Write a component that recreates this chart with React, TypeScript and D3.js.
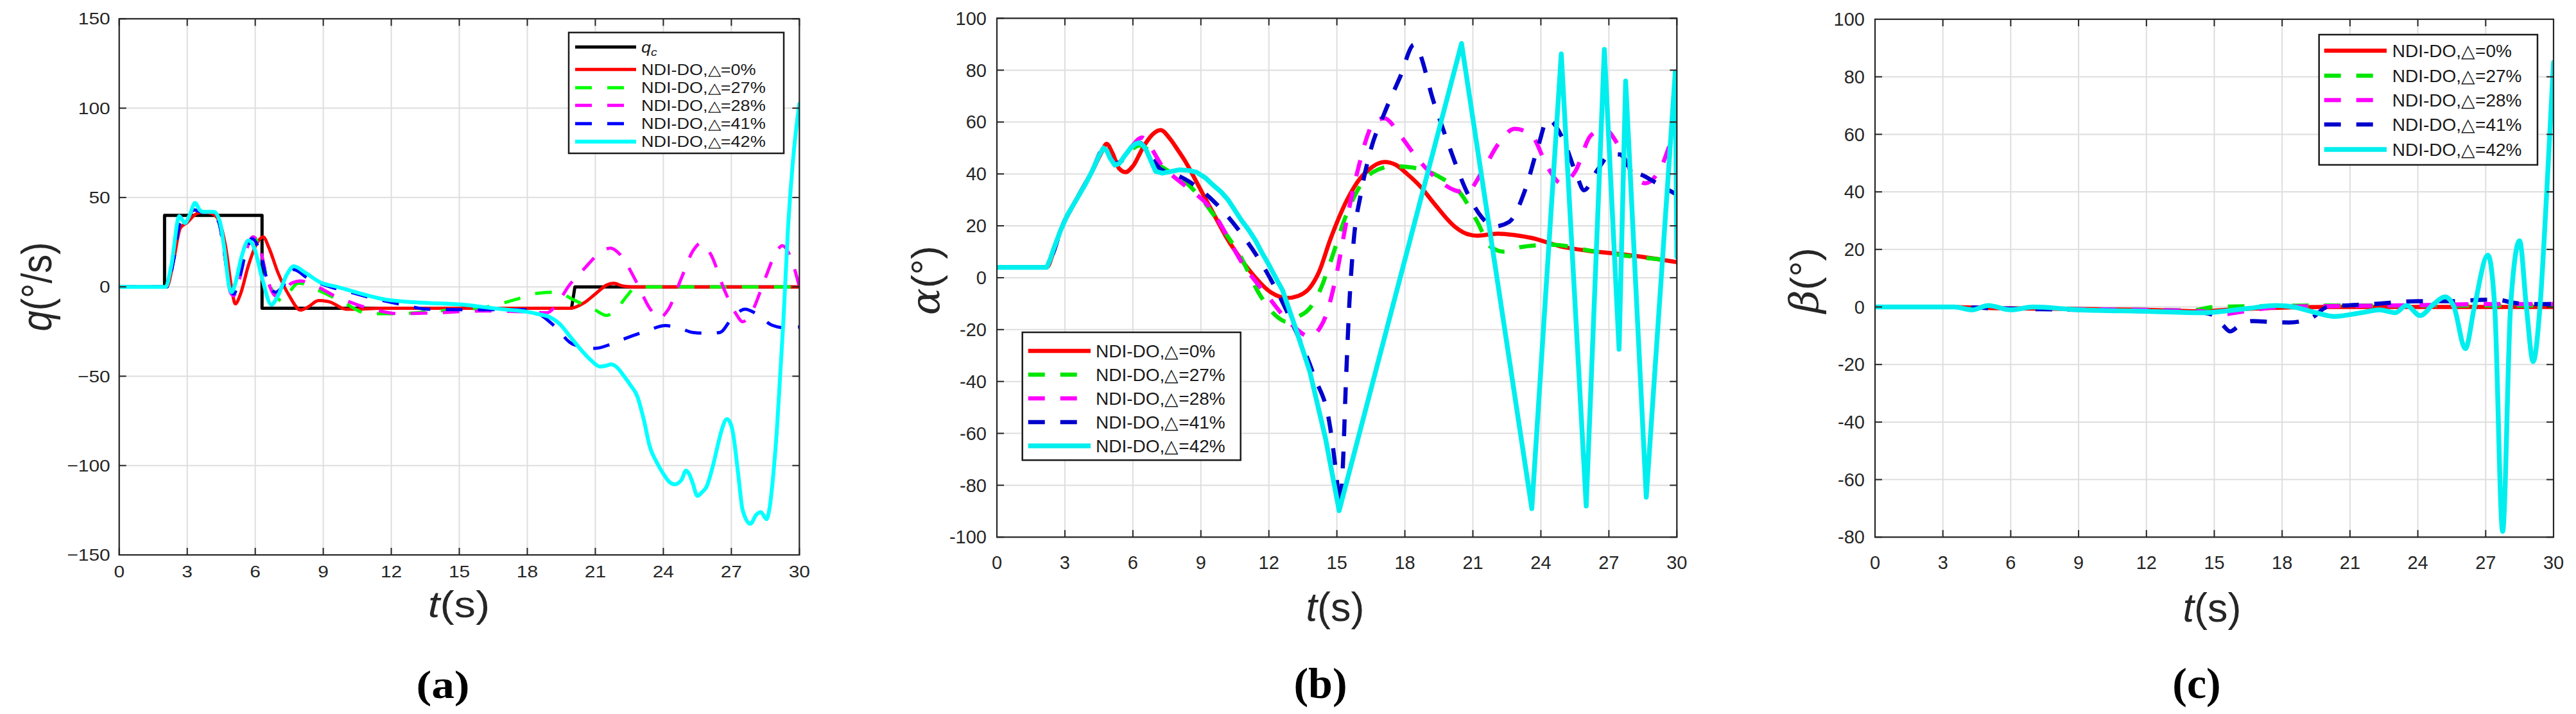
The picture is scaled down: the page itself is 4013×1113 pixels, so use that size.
import React from 'react';
import * as d3 from 'd3';

type Pt = [number, number];

// ---------- tick values ----------
const T_TICKS = [0, 3, 6, 9, 12, 15, 18, 21, 24, 27, 30];
const Q_TICKS = [-150, -100, -50, 0, 50, 100, 150];
const ALPHA_TICKS = [-100, -80, -60, -40, -20, 0, 20, 40, 60, 80, 100];
const BETA_TICKS = [-80, -60, -40, -20, 0, 20, 40, 60, 80, 100];

const LEGEND_LABELS = ['NDI-DO,△=0%', 'NDI-DO,△=27%', 'NDI-DO,△=28%', 'NDI-DO,△=41%', 'NDI-DO,△=42%'];

// ---------- panel (a): q (deg/s) ----------
const qCommand: Pt[] = [[0, 0], [2, 0], [2, 40], [6.3, 40], [6.3, -12], [19.95, -12], [20.1, 0], [30, 0]];
const qRed: Pt[] = [[0, 0], [2.1, 0], [2.4, 15], [2.7, 33], [3.0, 36], [3.3, 40], [3.7, 42], [4.1, 41], [4.4, 37], [4.7, 22], [4.95, 0], [5.12, -9.5], [5.35, -4], [5.7, 12], [6.1, 25], [6.35, 28], [6.6, 22], [7.0, 8], [7.5, -5], [8.0, -13], [8.3, -11.5], [8.8, -7.7], [9.3, -8.5], [10.0, -12.5], [10.5, -12.5], [11.5, -12], [19.9, -12], [20.5, -9], [21, -4], [21.5, 1], [21.8, 2], [22.2, 0.5], [22.6, 0], [30, 0]];
const qGreen: Pt[] = [[0, 0], [2.1, 0], [2.4, 15], [2.7, 36], [2.9, 37], [3.3, 43], [3.6, 42], [4.1, 41], [4.4, 36], [4.65, 18], [4.9, -2], [5.05, -4], [5.3, 5], [5.6, 20], [5.9, 28], [6.2, 22], [6.5, 6], [6.9, -5], [7.2, -8], [7.5, -3], [7.9, 2], [8.2, 1.5], [8.8, -2], [9.8, -8], [11, -15], [12.4, -15], [14, -13.5], [15.5, -12.5], [16.5, -10.5], [17.5, -7], [18.5, -3.5], [19.3, -3], [20, -7], [21, -13], [21.5, -16], [21.9, -13], [22.4, -5], [22.8, 0], [30, 0]];
const qMagenta: Pt[] = [[0, 0], [2.1, 0], [2.4, 15], [2.7, 36], [2.9, 37], [3.3, 43], [3.6, 42], [4.1, 41], [4.4, 36], [4.65, 18], [4.9, -3], [5.05, -5], [5.3, 4], [5.6, 20], [5.9, 28], [6.2, 22], [6.5, 6], [6.9, -5], [7.2, -4], [7.6, 2], [8.0, 3.3], [8.5, 1.5], [9.5, -5], [10.5, -10], [11.5, -13.5], [12.3, -15], [14, -14.5], [16, -13.5], [18, -14], [18.85, -14.5], [19.4, -8], [19.8, 0], [20.5, 10], [21.2, 19], [21.67, 21.7], [22.1, 18], [22.8, 3], [23.4, -12], [23.8, -17.5], [24.2, -13], [24.8, 5], [25.3, 20], [25.66, 24.5], [26.1, 18], [26.7, -2], [27.2, -15], [27.5, -19.5], [27.9, -14], [28.5, 5], [29.0, 20], [29.25, 23], [29.6, 17], [30, 0]];
const qBlue: Pt[] = [[0, 0], [2.1, 0], [2.4, 15], [2.7, 36], [2.9, 37], [3.3, 43], [3.6, 42], [4.1, 41], [4.4, 36], [4.65, 18], [4.9, -2], [5.05, -4], [5.3, 5], [5.6, 20], [5.85, 27], [6.2, 20], [6.5, 5], [6.9, -3], [7.2, 0], [7.7, 9.7], [8.3, 5], [9.3, 0], [10.2, -3], [11.2, -6.4], [12.5, -10], [13.6, -12.5], [15.4, -12.8], [17.8, -12.8], [18.5, -15], [19.2, -22], [20.0, -32], [21.0, -34.4], [21.7, -32], [22.3, -29], [23.2, -25], [24.1, -21.7], [24.7, -23], [25.3, -25.5], [26, -26], [26.5, -25.5], [27, -18], [27.6, -12.5], [28.1, -15], [28.8, -21.5], [29.4, -23], [30, -22.5]];
const qCyan: Pt[] = [[0, 0], [2.05, 0], [2.3, 12], [2.65, 39.5], [2.9, 35.7], [3.1, 40], [3.35, 47], [3.55, 43], [3.7, 42], [4.18, 42], [4.45, 36], [4.65, 20], [4.85, 0], [4.95, -3], [5.1, 1], [5.4, 17], [5.7, 26], [5.95, 22], [6.3, 5], [6.71, -10], [7.0, -5], [7.4, 7], [7.7, 11.5], [8.2, 8], [8.87, 2.5], [9.6, 0], [10.3, -2.5], [11.0, -5], [11.7, -7], [12.6, -8.3], [13.6, -9], [15.2, -10], [16.2, -11.5], [17.1, -12.8], [18.0, -14], [18.5, -15.3], [19.0, -17], [19.4, -20.4], [19.9, -28], [20.4, -35.7], [20.8, -41], [21.2, -44.6], [21.45, -44.2], [21.7, -43.4], [21.95, -45], [22.25, -49.7], [22.55, -55], [22.85, -61.2], [23.15, -75], [23.4, -89.3], [23.7, -98], [24.0, -104.6], [24.25, -109], [24.5, -110.5], [24.8, -108], [25.0, -102.8], [25.15, -105], [25.3, -110], [25.5, -117], [25.7, -115], [25.9, -112], [26.2, -99.5], [26.45, -86], [26.6, -79], [26.8, -74], [26.95, -76], [27.07, -81.6], [27.3, -104.6], [27.5, -125], [27.84, -132.6], [28.1, -127.5], [28.3, -126], [28.55, -130], [28.7, -122.5], [28.85, -105], [29.0, -81.6], [29.15, -50], [29.3, -17.9], [29.5, 33], [29.76, 76.5], [30, 102.5]];

// ---------- panel (b): alpha (deg) ----------
const aRed: Pt[] = [[0, 4], [2.2, 4], [2.5, 10], [2.8, 18], [3.5, 30], [4.2, 41], [4.6, 48], [4.84, 51.6], [5.1, 48], [5.4, 42], [5.68, 40.7], [6.0, 43], [6.5, 51], [6.9, 55.5], [7.23, 56.9], [7.6, 54], [8.0, 49], [8.3, 45], [9.0, 33.7], [9.6, 24], [10.2, 14.5], [10.7, 8], [11.2, 2.2], [12.1, -5.7], [12.8, -7.8], [13.3, -7], [13.8, -3.9], [14.2, 2], [14.7, 14.5], [15.45, 30], [16.0, 38], [16.4, 41.6], [17.1, 44.6], [17.6, 43.5], [18.1, 40], [18.7, 35], [19.3, 28.5], [20.2, 19.7], [20.7, 17], [21.2, 16.2], [22.1, 17], [22.8, 16.5], [23.6, 15.3], [25, 11.8], [26, 10.5], [27.4, 9.2], [28.5, 8], [30, 6]];
const aGreen: Pt[] = [[0, 4], [2.2, 4], [2.5, 10], [2.8, 18], [3.5, 30], [4.2, 41], [4.7, 49.5], [4.9, 48], [5.2, 44], [5.5, 45], [5.9, 49], [6.3, 51], [6.7, 49], [7.1, 44], [7.6, 41], [8.3, 37], [9.5, 25], [10.1, 17], [10.7, 9], [11.6, -6.6], [12.4, -15.3], [12.8, -17], [13.3, -15], [13.8, -11.8], [14.3, -4], [14.7, 5.7], [15.45, 25], [16.0, 35], [16.6, 40.7], [17.5, 43], [18.3, 42.5], [19.5, 39], [20.5, 32], [21.2, 21.5], [21.8, 11.8], [22.4, 10], [23.1, 11.8], [24.5, 12.7], [26.2, 10.4], [27.9, 8.3], [30, 6.5]];
const aMagenta: Pt[] = [[0, 4], [2.2, 4], [2.5, 10], [2.8, 18], [3.5, 30], [4.2, 41], [4.7, 49.5], [4.9, 48], [5.2, 44], [5.5, 45], [5.9, 50], [6.4, 54], [6.8, 50], [7.3, 43], [7.8, 39], [8.3, 35.5], [9.5, 25.8], [10.1, 17], [10.7, 7.4], [11.9, -6.6], [13.1, -18.8], [13.8, -22.7], [14.2, -20], [14.5, -15], [15, 2], [15.45, 23], [15.9, 40.7], [16.4, 56], [16.6, 60], [17.1, 61.4], [17.8, 54.8], [18.55, 46], [19.3, 39], [20.2, 33.7], [20.7, 32.9], [21.4, 40.7], [22.1, 51.3], [22.85, 57.4], [23.6, 54.8], [24.3, 42.5], [24.9, 36.4], [25.5, 40.7], [26.2, 54.8], [26.8, 57.4], [27.4, 51.3], [28, 40.7], [28.6, 36.4], [29.3, 42.5], [29.8, 53], [30, 54.8]];
const aBlue: Pt[] = [[0, 4], [2.2, 4], [2.5, 10], [2.8, 18], [3.5, 30], [4.2, 41], [4.7, 49.5], [4.9, 48], [5.2, 44], [5.5, 45], [5.9, 50], [6.3, 52], [6.7, 48], [7.2, 42], [7.8, 40], [8.3, 38], [9.5, 30], [10.7, 18], [11.9, 2.2], [13.1, -18.8], [14.0, -38], [14.7, -57.5], [15.0, -78], [15.12, -88], [15.25, -75], [15.4, -40], [15.55, -10], [15.75, 15], [16.05, 32], [16.5, 49.5], [17.1, 63.5], [17.8, 77.6], [18.4, 89.8], [19.3, 67], [20, 49.5], [20.7, 33.7], [21.4, 23.2], [21.9, 19.7], [22.6, 21.5], [23.3, 33.7], [23.9, 51.3], [24.3, 61], [25, 53], [25.6, 39], [25.9, 33.7], [26.5, 41.6], [27.1, 47.7], [27.5, 47.5], [27.9, 42.5], [28.6, 39], [29.3, 35.5], [30, 32]];
const aCyan: Pt[] = [[0, 4], [2.2, 4], [2.35, 7], [2.5, 11], [2.8, 18], [3.1, 24], [3.5, 30], [3.9, 36], [4.2, 41], [4.5, 47], [4.7, 50], [4.85, 49], [5.0, 46], [5.2, 43.4], [5.4, 44], [5.6, 46.5], [5.9, 50], [6.1, 51.5], [6.27, 52], [6.45, 51], [6.6, 49], [6.8, 45], [7.0, 41], [7.3, 40.3], [7.6, 40.8], [8.06, 41.6], [8.5, 41.3], [8.8, 40.7], [9.2, 38.5], [9.5, 36], [9.9, 33], [10.2, 30], [10.5, 26], [10.8, 22], [11.1, 18.5], [11.4, 14.5], [11.7, 9.5], [12.0, 5], [12.3, 0], [12.6, -4.8], [13.2, -20], [13.8, -36], [14.5, -62], [15.1, -89.8], [20.5, 90.3], [23.6, -89], [24.9, 86.3], [26.0, -88], [26.8, 88], [27.45, -27.6], [27.74, 75.8], [28.65, -84.6], [29.93, 79.3], [30, 8]];

// ---------- panel (c): beta (deg) ----------
const bRed: Pt[] = [[0, 0], [3, 0], [6, -0.5], [9, -0.7], [12, -1], [14.5, -1.5], [15.5, -1], [17, -0.5], [20, 0], [30, 0]];
const bGreen: Pt[] = [[0, 0], [3, 0], [6, -0.5], [9, -0.8], [12, -1], [14, -1.2], [15, 0], [17, 0.3], [20, 0.5], [25, 0.5], [30, 0.5]];
const bMagenta: Pt[] = [[0, 0], [3, 0], [6, -0.5], [9, -0.8], [12, -1], [14.5, -1.5], [15, -2.7], [15.5, -2.5], [16.4, -1.4], [18, 0], [20, 0.3], [24, 0.6], [27, 1], [30, 1]];
const bBlue: Pt[] = [[0, 0], [3, 0], [6, -0.6], [9, -1], [12, -1.5], [14.5, -2], [15.0, -3], [15.4, -6.5], [15.7, -8.5], [16.1, -6.5], [16.7, -4.9], [17.5, -5.2], [18.3, -5.4], [19.3, -3.8], [20, 0], [22, 1], [24, 2], [25.5, 2], [27, 2.5], [27.5, 2.5], [28.2, 1.5], [28.8, 1], [30, 1]];
const bCyan: Pt[] = [[0, 0], [3.5, 0], [4.3, -1], [5, 0.5], [6, -1], [7, 0], [9, -1], [12, -1.5], [14.5, -2], [16.5, -0.5], [17.7, 0.5], [18.5, 0], [19.5, -2], [20.3, -3.3], [21.5, -2], [22.3, -1], [23, -2], [23.5, 0.5], [24.1, -3], [24.7, 1], [25.2, 3.5], [25.6, 0], [26.1, -14.5], [26.5, 0], [27.1, 18], [27.4, 0], [27.75, -78], [28.1, 0], [28.5, 23], [28.8, 0], [29.1, -19], [29.4, 0], [29.7, 40], [30, 85]];

// ---------- rendering ----------
type Box = { x0: number; x1: number; y0: number; y1: number };
type Series = { pts: Pt[]; color: string; width: number; dash?: string; linear?: boolean; step?: boolean };

const SANS = "'Liberation Sans', Arial, Helvetica, sans-serif";
const SERIF = "'Liberation Serif', 'Times New Roman', serif";
const AXC = '#262626';
const GRID = '#dedede';

function Txt(props: { x: number; y: number; sx?: number; rot?: number; anchor?: string; size: number; family?: string; weight?: string; dy?: string; children: React.ReactNode; fill?: string }) {
  const { x, y, sx = 1, rot = 0, anchor = 'middle', size, family = SANS, weight = 'normal', dy, children, fill = AXC } = props;
  return (
    <text transform={`translate(${x},${y}) scale(${sx},1)${rot ? ` rotate(${rot})` : ''}`} textAnchor={anchor as any} fontSize={size} fontFamily={family} fontWeight={weight} dy={dy} fill={fill}>
      {children}
    </text>
  );
}

type LegendCfg = {
  x0: number; x1: number; y0: number; y1: number;
  rows: number[]; lx0: number; lx1: number; tx: number; size: number; sx: number;
  labels: React.ReactNode[]; series: Series[];
};

function Panel(props: {
  id: string; box: Box; yDomain: [number, number]; yTicks: number[]; minus: string;
  series: Series[]; tickSize: number; sx: number; xTickBaseline: number; yTickGap: number;
  xLabel: { x: number; y: number; size: number };
  yLabel: { x: number; y: number; size: number; node: React.ReactNode };
  tag: { x: number; y: number; size: number; text: string };
  legend: LegendCfg;
}) {
  const { id, box, yDomain, yTicks, series, tickSize, sx, legend } = props;
  const x = d3.scaleLinear().domain([0, 30]).range([box.x0, box.x1]);
  const y = d3.scaleLinear().domain(yDomain).range([box.y1, box.y0]);
  const mk = (s: Series) =>
    d3.line<Pt>().x(d => x(d[0])).y(d => y(d[1])).curve(s.linear || s.step ? d3.curveLinear : d3.curveMonotoneX)(s.pts) || '';
  const fmt = (v: number) => (v < 0 ? props.minus + Math.abs(v) : String(v));
  const tl = 11;
  return (
    <g>
      <defs>
        <clipPath id={`clip-${id}`}>
          <rect x={box.x0} y={box.y0} width={box.x1 - box.x0} height={box.y1 - box.y0} />
        </clipPath>
      </defs>
      <rect x={box.x0} y={box.y0} width={box.x1 - box.x0} height={box.y1 - box.y0} fill="#fff" />
      {T_TICKS.map(t => (
        <line key={`gx${t}`} x1={x(t)} x2={x(t)} y1={box.y0} y2={box.y1} stroke={GRID} strokeWidth={2} />
      ))}
      {yTicks.map(v => (
        <line key={`gy${v}`} x1={box.x0} x2={box.x1} y1={y(v)} y2={y(v)} stroke={GRID} strokeWidth={2} />
      ))}
      <g clipPath={`url(#clip-${id})`}>
        {series.map((s, i) => (
          <path key={i} d={mk(s)} fill="none" stroke={s.color} strokeWidth={s.width} strokeDasharray={s.dash} strokeLinejoin="round" strokeLinecap={s.dash ? 'butt' : 'round'} />
        ))}
      </g>
      <rect x={box.x0} y={box.y0} width={box.x1 - box.x0} height={box.y1 - box.y0} fill="none" stroke={AXC} strokeWidth={2.2} />
      {T_TICKS.map(t => (
        <g key={`tx${t}`}>
          <line x1={x(t)} x2={x(t)} y1={box.y1} y2={box.y1 - tl} stroke={AXC} strokeWidth={2} />
          <line x1={x(t)} x2={x(t)} y1={box.y0} y2={box.y0 + tl} stroke={AXC} strokeWidth={2} />
          <Txt x={x(t)} y={props.xTickBaseline} sx={sx} size={tickSize}>{String(t)}</Txt>
        </g>
      ))}
      {yTicks.map(v => (
        <g key={`ty${v}`}>
          <line x1={box.x0} x2={box.x0 + tl} y1={y(v)} y2={y(v)} stroke={AXC} strokeWidth={2} />
          <line x1={box.x1} x2={box.x1 - tl} y1={y(v)} y2={y(v)} stroke={AXC} strokeWidth={2} />
          <Txt x={box.x0 - props.yTickGap} y={y(v)} sx={sx} size={tickSize} anchor="end" dy="0.35em">{fmt(v)}</Txt>
        </g>
      ))}
      <Txt x={props.xLabel.x} y={props.xLabel.y} sx={sx} size={props.xLabel.size}>
        <tspan fontStyle="italic">t</tspan>(s)
      </Txt>
      <Txt x={props.yLabel.x} y={props.yLabel.y} sx={sx} rot={-90} size={props.yLabel.size} dy="0.35em">
        {props.yLabel.node}
      </Txt>
      <Txt x={props.tag.x} y={props.tag.y} sx={sx} size={props.tag.size} family={SERIF} weight="bold" fill="#000">
        {props.tag.text}
      </Txt>
      {/* legend */}
      <rect x={legend.x0} y={legend.y0} width={legend.x1 - legend.x0} height={legend.y1 - legend.y0} fill="#fff" stroke="#1a1a1a" strokeWidth={2.5} />
      {legend.series.map((s, i) => (
        <g key={`lg${i}`}>
          <line x1={legend.lx0} x2={legend.lx1} y1={legend.rows[i]} y2={legend.rows[i]} stroke={s.color} strokeWidth={s.width} strokeDasharray={s.dash} />
          <Txt x={legend.tx} y={legend.rows[i]} sx={legend.sx} size={legend.size} anchor="start" dy="0.36em" fill="#1a1a1a">
            {legend.labels[i]}
          </Txt>
        </g>
      ))}
    </g>
  );
}

const DASH = '26 24';

export default function App() {
  const seriesA: Series[] = [
    { pts: qCommand, color: '#000000', width: 5, step: true },
    { pts: qRed, color: '#ff0000', width: 5 },
    { pts: qGreen, color: '#00ff00', width: 5, dash: DASH },
    { pts: qMagenta, color: '#ff00ff', width: 5, dash: DASH },
    { pts: qBlue, color: '#0000ff', width: 5, dash: DASH },
    { pts: qCyan, color: '#00ffff', width: 6 },
  ];
  const seriesB: Series[] = [
    { pts: aRed, color: '#ff0000', width: 6.5 },
    { pts: aGreen, color: '#00e600', width: 6.5, dash: DASH },
    { pts: aMagenta, color: '#ff00ff', width: 6.5, dash: DASH },
    { pts: aBlue, color: '#0000cc', width: 6.5, dash: DASH },
    { pts: aCyan, color: '#00eeee', width: 7.5, linear: true },
  ];
  const seriesC: Series[] = [
    { pts: bRed, color: '#ff0000', width: 6.5 },
    { pts: bGreen, color: '#00e600', width: 6.5, dash: DASH },
    { pts: bMagenta, color: '#ff00ff', width: 6.5, dash: DASH },
    { pts: bBlue, color: '#0000cc', width: 6.5, dash: DASH },
    { pts: bCyan, color: '#00eeee', width: 7.5 },
  ];
  const qcLabel = (
    <>
      <tspan fontStyle="italic">q</tspan>
      <tspan fontStyle="italic" fontSize="0.72em" dy="0.3em">c</tspan>
    </>
  );
  const labelsA: React.ReactNode[] = [qcLabel, ...LEGEND_LABELS];
  const SX_A = 1.15;
  return (
    <svg width={4013} height={1113} viewBox="0 0 4013 1113" style={{ position: 'absolute', left: 0, top: 0, background: '#fff' }}>
      <rect x={0} y={0} width={4013} height={1113} fill="#fff" />
      <Panel
        id="a"
        box={{ x0: 185.7, x1: 1245.3, y0: 29.3, y1: 865 }}
        yDomain={[-150, 150]}
        yTicks={Q_TICKS}
        minus="−"
        series={seriesA}
        tickSize={26}
        sx={SX_A}
        xTickBaseline={900}
        yTickGap={14}
        xLabel={{ x: 715, y: 962, size: 58 }}
        yLabel={{ x: 57, y: 447, size: 58, node: <><tspan fontStyle="italic">q</tspan>(°/s)</> }}
        tag={{ x: 690, y: 1088, size: 62, text: '(a)' }}
        legend={{
          x0: 886, x1: 1221, y0: 50.7, y1: 239,
          rows: [73.3, 108.3, 136.7, 164.3, 192.7, 220.7],
          lx0: 896, lx1: 991, tx: 999, size: 23.5, sx: SX_A,
          labels: labelsA, series: seriesA,
        }}
      />
      <Panel
        id="b"
        box={{ x0: 1553, x1: 2612.3, y0: 28.5, y1: 837.3 }}
        yDomain={[-100, 100]}
        yTicks={ALPHA_TICKS}
        minus="-"
        series={seriesB}
        tickSize={29}
        sx={1}
        xTickBaseline={887}
        yTickGap={16}
        xLabel={{ x: 2080, y: 968, size: 63 }}
        yLabel={{ x: 1441, y: 437, size: 62, node: <><tspan fontStyle="italic" fontFamily="'DejaVu Serif', serif">α</tspan>(°)</> }}
        tag={{ x: 2057, y: 1088, size: 68, text: '(b)' }}
        legend={{
          x0: 1592.7, x1: 1932.7, y0: 518, y1: 717.3,
          rows: [547, 584, 621, 658, 695],
          lx0: 1601.7, lx1: 1699, tx: 1707, size: 28, sx: 1,
          labels: LEGEND_LABELS, series: seriesB,
        }}
      />
      <Panel
        id="c"
        box={{ x0: 2921, x1: 3978, y0: 30, y1: 837.3 }}
        yDomain={[-80, 100]}
        yTicks={BETA_TICKS}
        minus="-"
        series={seriesC}
        tickSize={29}
        sx={1}
        xTickBaseline={887}
        yTickGap={16}
        xLabel={{ x: 3446, y: 969, size: 63 }}
        yLabel={{ x: 2810, y: 437, size: 62, node: <><tspan fontStyle="italic" fontFamily="'DejaVu Serif', serif">β</tspan>(°)</> }}
        tag={{ x: 3422, y: 1088, size: 68, text: '(c)' }}
        legend={{
          x0: 3612.7, x1: 3953, y0: 54, y1: 257,
          rows: [79, 118, 156, 194, 233],
          lx0: 3620.7, lx1: 3718, tx: 3726.7, size: 28, sx: 1,
          labels: LEGEND_LABELS, series: seriesC,
        }}
      />
    </svg>
  );
}
